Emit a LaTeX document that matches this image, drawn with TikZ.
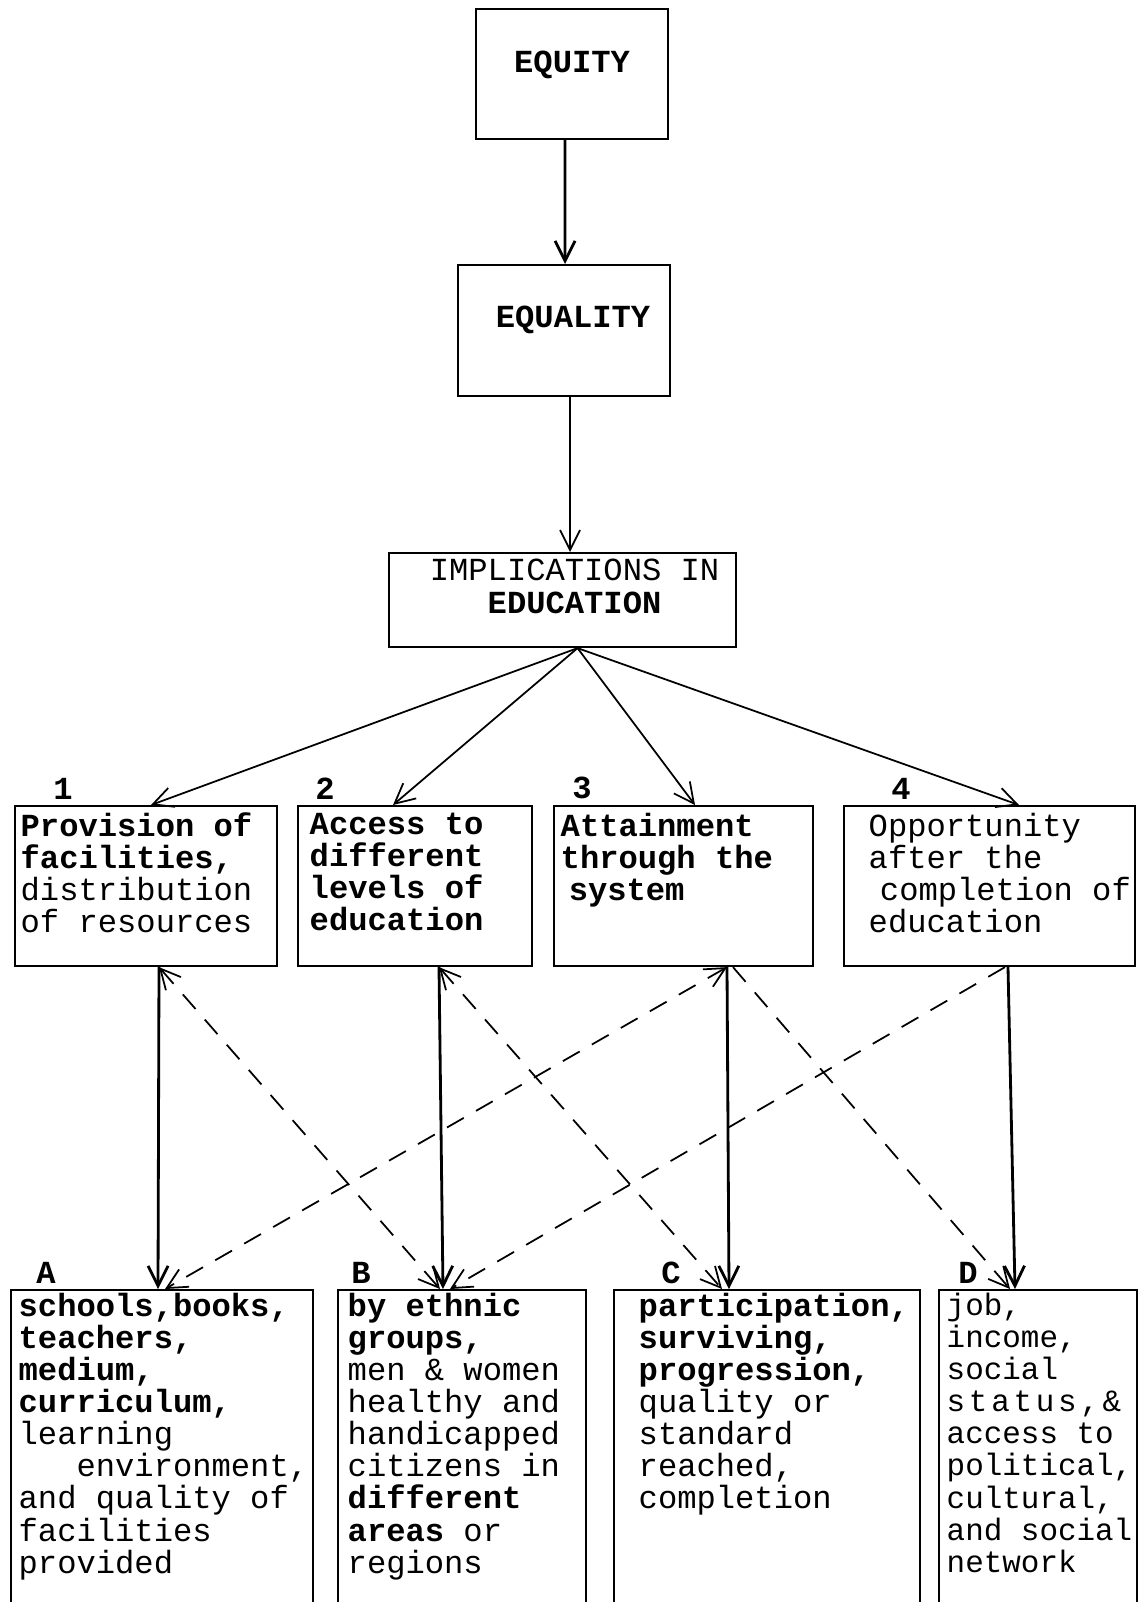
\documentclass[tikz,border=0pt]{standalone}
\usepackage{fontspec}
\setmainfont{Liberation Mono}
\usetikzlibrary{arrows.meta}

\begin{document}
\begin{tikzpicture}[
    >={Straight Barb[length=2mm,width=2mm]},
    box/.style  ={draw, line width=0.6pt, inner sep=0pt, anchor=north west},
    head/.style ={anchor=north, inner sep=0pt, align=center, font=\fontsize{9.15}{9.5}\selectfont},
    txt/.style  ={anchor=north west, inner sep=0pt, align=left, font=\fontsize{9.15}{9.15}\selectfont,
                  execute at begin node={\rule{0pt}{0.25cm}}},
    num/.style  ={anchor=south, inner sep=0pt, yshift=0.05cm, font=\bfseries\fontsize{9.15}{9.15}\selectfont},
    link/.style ={line width=0.8pt},
    fan/.style  ={line width=0.5pt},
    cross/.style={line width=0.5pt, dash pattern=on 5.5pt off 4pt}]
        \useasboundingbox (0.00,0.00) rectangle (11.39,-16.02);
        % top chain
        \node[box, minimum width=1.92cm, minimum height=1.30cm,
              label={[head, yshift=-0.42cm]north:\textbf{EQUITY}}]                          (equity)   at ( 4.75, -0.08) {};
        \node[box, minimum width=2.12cm, minimum height=1.31cm,
              label={[head, xshift=0.09cm, yshift=-0.41cm]north:\textbf{EQUALITY}}]         (equality) at ( 4.57, -2.64) {};
        \node[box, minimum width=3.47cm, minimum height=0.94cm,
              label={[head, xshift=0.12cm, yshift=-0.06cm]north:IMPLICATIONS IN\\\textbf{EDUCATION}}] (impl) at ( 3.88, -5.52) {};
        % implications
        \node[box, minimum width=2.62cm, minimum height=1.60cm,
              label={[num, xshift=0.49cm]north west:1},
              label={[txt, xshift=0.06cm, yshift=-0.07cm]north west:{\textbf{Provision of}\\\textbf{facilities,}\\distribution\\of resources}}] (prov) at ( 0.14, -8.05) {};
        \node[box, minimum width=2.34cm, minimum height=1.60cm,
              label={[num, xshift=0.28cm]north west:2},
              label={[txt, xshift=0.12cm, yshift=-0.07cm]north west:{\textbf{Access to}\\\textbf{different}\\\textbf{levels of}\\\textbf{education}}}] (access) at ( 2.97, -8.05) {};
        \node[box, minimum width=2.59cm, minimum height=1.60cm,
              label={[num, xshift=0.29cm]north west:3},
              label={[txt, xshift=0.07cm, yshift=-0.07cm]north west:{\textbf{Attainment}\\\textbf{through the}\\\hspace*{0.25em}\textbf{system}}}] (attain) at ( 5.53, -8.05) {};
        \node[box, minimum width=2.91cm, minimum height=1.60cm,
              label={[num, xshift=0.58cm]north west:4},
              label={[txt, xshift=0.25cm, yshift=-0.07cm]north west:{Opportunity\\after the\\\hspace*{0.35em}completion of\\education}}] (oppor) at ( 8.43, -8.05) {};
        % areas
        \node[box, minimum width=3.02cm, minimum height=3.30cm,
              label={[num, xshift=0.36cm]north west:A},
              label={[txt, xshift=0.08cm, yshift=-0.03cm]north west:{\textbf{schools,books,}\\\textbf{teachers,}\\\textbf{medium,}\\\textbf{curriculum,}\\learning\\\hspace*{1.8em}environment,\\and quality of\\facilities\\provided}}] (resA) at ( 0.10,-12.89) {};
        \node[box, minimum width=2.48cm, minimum height=3.30cm,
              label={[num, xshift=0.24cm]north west:B},
              label={[txt, xshift=0.10cm, yshift=-0.03cm]north west:{\textbf{by ethnic}\\\textbf{groups,}\\men \& women\\healthy and\\handicapped\\citizens in\\\textbf{different}\\\textbf{areas} or\\regions}}] (resB) at ( 3.37,-12.89) {};
        \node[box, minimum width=3.06cm, minimum height=3.30cm,
              label={[num, xshift=0.58cm]north west:C},
              label={[txt, xshift=0.25cm, yshift=-0.03cm]north west:{\textbf{participation,}\\\textbf{surviving,}\\\textbf{progression,}\\quality or\\standard\\reached,\\completion}}] (resC) at ( 6.13,-12.89) {};
        \node[box, minimum width=1.98cm, minimum height=3.30cm,
              label={[num, xshift=0.30cm]north west:D},
              label={[txt, xshift=0.08cm, yshift=-0.03cm, font=\fontsize{8.8}{9.15}\selectfont]north west:{job,\\income,\\social\\{\addfontfeature{LetterSpace=12}status,\&}\\access to\\political,\\cultural,\\and social\\network}}] (resD) at ( 9.38,-12.89) {};
        \coordinate (apex) at ([xshift=0.15cm]impl.south);
        \draw[link, ->] ([xshift=-0.07cm]equity.south)   -- ([xshift=0.01cm]equality.north);
        \draw[fan,  ->] ([xshift=0.06cm]equality.south)  -- ([xshift=0.075cm]impl.north);
        \draw[fan,  ->] (apex) -- ([xshift=1.37cm]prov.north west);
        \draw[fan,  ->] (apex) -- ([xshift=0.96cm]access.north west);
        \draw[fan,  ->] (apex) -- ([xshift=1.42cm]attain.north west);
        \draw[fan,  ->] (apex) -- ([xshift=1.76cm]oppor.north west);
        \draw[link, ->] ([xshift=1.45cm]prov.south west)   -- ([xshift=1.48cm]resA.north west);
        \draw[link, ->] ([xshift=1.42cm]access.south west) -- ([xshift=1.06cm]resB.north west);
        \draw[link, ->] ([xshift=1.74cm]attain.south west) -- ([xshift=1.16cm]resC.north west);
        \draw[link, ->] ([xshift=1.65cm]oppor.south west)  -- ([xshift=0.77cm]resD.north west);
        \draw[cross, <->] ([xshift=1.45cm]prov.south west)   -- ([xshift=1.03cm]resB.north west);
        \draw[cross, <->] ([xshift=1.74cm]attain.south west) -- ([xshift=1.55cm]resA.north west);
        \draw[cross, <->] ([xshift=1.42cm]access.south west) -- ([xshift=1.09cm]resC.north west);
        \draw[cross,  ->] ([xshift=1.80cm]attain.south west) -- ([xshift=0.72cm]resD.north west);
        \draw[cross,  ->] ([xshift=1.62cm]oppor.south west)  -- ([xshift=1.13cm]resB.north west);
\end{tikzpicture}
\end{document}
